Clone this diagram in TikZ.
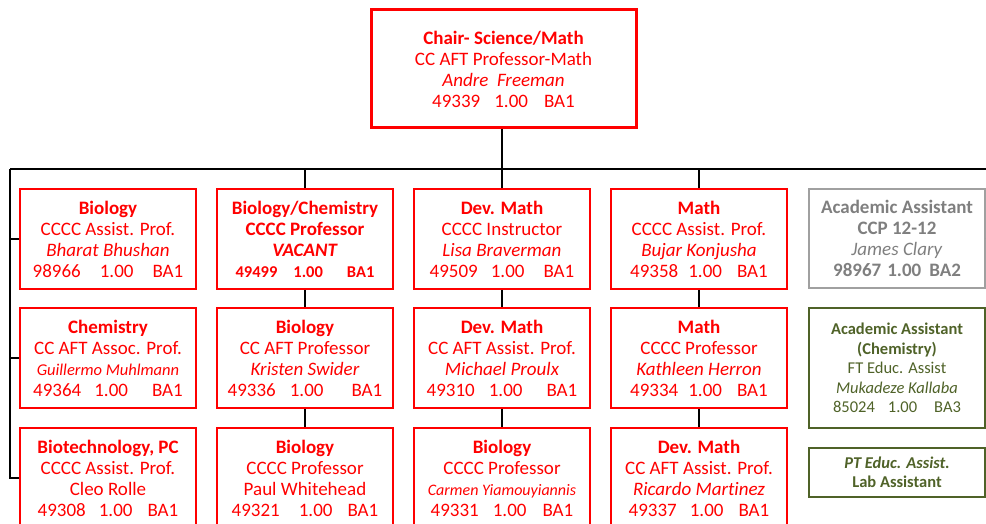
\documentclass[tikz,border=0pt]{standalone}
\usepackage{fontspec}
\setmainfont{Carlito}[Ligatures=NoCommon]
\definecolor{posred}{HTML}{FF0000}
\definecolor{staffgrey}{HTML}{7F7F7F}
\definecolor{staffgreyline}{HTML}{A0A0A0}
\definecolor{labgreen}{HTML}{4F6228}
\begin{document}
\begin{tikzpicture}[x=1pt,y=-1pt,
  post/.style={draw=posred, line width=1.5pt, text=posred,
    minimum width=176pt, minimum height=100pt, inner sep=0pt,
    align=center, font=\fontsize{19}{21}\selectfont},
  greypost/.style={post, draw=staffgreyline, text=staffgrey},
  greenpost/.style={post, draw=labgreen, text=labgreen,
    font=\fontsize{16.5}{19.5}\selectfont},
  link/.style={line width=1.5pt, black}]
\useasboundingbox (0,0) rectangle (986,524);

% head of department
\node[post, line width=3pt, minimum width=265pt, minimum height=118pt] (chair) at (503.5,69)
  {\textbf{Chair- Science/Math}\\CC AFT Professor-Math\\\textit{Andre\ \ Freeman}\\49339\hspace{14pt}1.00\hspace{16pt}BA1};

% first row
\node[post] (bio1) at (108,239)
  {\textbf{Biology}\\CCCC Assist. Prof.\\\textit{Bharat Bhushan}\\98966\hspace{19pt}1.00\hspace{19pt}BA1};
\node[post] (biochem) at (305,239)
  {\textbf{Biology/Chemistry}\\\textbf{CCCC Professor}\\\textbf{\textit{VACANT}}\\{\fontsize{16.5}{21}\selectfont\bfseries 49499\hspace{16pt}1.00\hspace{24pt}BA1}};
\node[post] (dev1) at (502,239)
  {\textbf{Dev. Math}\\CCCC Instructor\\\textit{Lisa Braverman}\\49509\hspace{13pt}1.00\hspace{19pt}BA1};
\node[post] (math1) at (699,239)
  {\textbf{Math}\\CCCC Assist. Prof.\\\textit{Bujar Konjusha}\\49358\hspace{10pt}1.00\hspace{15pt}BA1};
\node[greypost, minimum height=99pt] (aa1) at (897,238.5)
  {\textbf{Academic Assistant}\\\textbf{CCP 12-12}\\\textit{James Clary}\\\textbf{98967\hspace{6pt}1.00\hspace{8pt}BA2}};

% second row
\node[post] (chem) at (108,358)
  {\textbf{Chemistry}\\CC AFT Assoc. Prof.\\{\fontsize{16.5}{21}\selectfont\itshape Guillermo Muhlmann}\\49364\hspace{13pt}1.00\hspace{24pt}BA1};
\node[post] (bio2) at (305,358)
  {\textbf{Biology}\\CC AFT Professor\\\textit{Kristen Swider}\\49336\hspace{14pt}1.00\hspace{28pt}BA1};
\node[post] (dev2) at (502,358)
  {\textbf{Dev. Math}\\CC AFT Assist. Prof.\\\textit{Michael Proulx}\\49310\hspace{14pt}1.00\hspace{24pt}BA1};
\node[post] (math2) at (699,358)
  {\textbf{Math}\\CCCC Professor\\\textit{Kathleen Herron}\\49334\hspace{10pt}1.00\hspace{15pt}BA1};
\node[greenpost, minimum height=120pt] (aa2) at (897,368)
  {\textbf{Academic Assistant}\\\textbf{(Chemistry)}\\FT Educ. Assist\\\textit{Mukadeze Kallaba}\\85024\hspace{13pt}1.00\hspace{17pt}BA3};

% third row
\node[post] (biotech) at (108,478)
  {\textbf{Biotechnology, PC}\\CCCC Assist. Prof.\\Cleo Rolle\\49308\hspace{13pt}1.00\hspace{15pt}BA1};
\node[post] (bio3) at (305,478)
  {\textbf{Biology}\\CCCC Professor\\Paul Whitehead\\49321\hspace{19pt}1.00\hspace{15pt}BA1};
\node[post] (bio4) at (502,478)
  {\textbf{Biology}\\CCCC Professor\\{\fontsize{16}{21}\selectfont\itshape Carmen Yiamouyiannis}\\49331\hspace{14pt}1.00\hspace{16pt}BA1};
\node[post] (dev3) at (699,478)
  {\textbf{Dev. Math}\\CC AFT Assist. Prof.\\\textit{Ricardo Martinez}\\49337\hspace{13pt}1.00\hspace{15pt}BA1};
\node[greenpost, minimum height=49pt] (lab) at (897,472.5)
  {\textbf{\textit{PT Educ. Assist.}}\\\textbf{Lab Assistant}};

% reporting lines
\coordinate (busL) at (10,169);
\coordinate (busR) at (994,169);
\draw[link] (busL) -- (busR);
\draw[link] (dev1.north |- chair.south) -- (dev1.north);
\draw[link] (busL) -- (busL |- biotech.west) -- (biotech.west);
\draw[link] (busL |- bio1.west) -- (bio1.west);
\draw[link] (busL |- chem.west) -- (chem.west);
\draw[link] (biochem.north |- busL) -- (biochem.north);
\draw[link] (math1.north |- busL) -- (math1.north);
\draw[link] (biochem.south) -- (bio2.north);
\draw[link] (bio2.south) -- (bio3.north);
\draw[link] (dev1.south) -- (dev2.north);
\draw[link] (dev2.south) -- (bio4.north);
\draw[link] (math1.south) -- (math2.north);
\draw[link] (math2.south) -- (dev3.north);
\draw[link] (busR) -- (busR |- lab.east);
\draw[link] (aa1.east) -- (aa1.east -| busR);
\draw[link] (aa2.east) -- (aa2.east -| busR);
\draw[link] (lab.east) -- (lab.east -| busR);
\end{tikzpicture}
\end{document}
